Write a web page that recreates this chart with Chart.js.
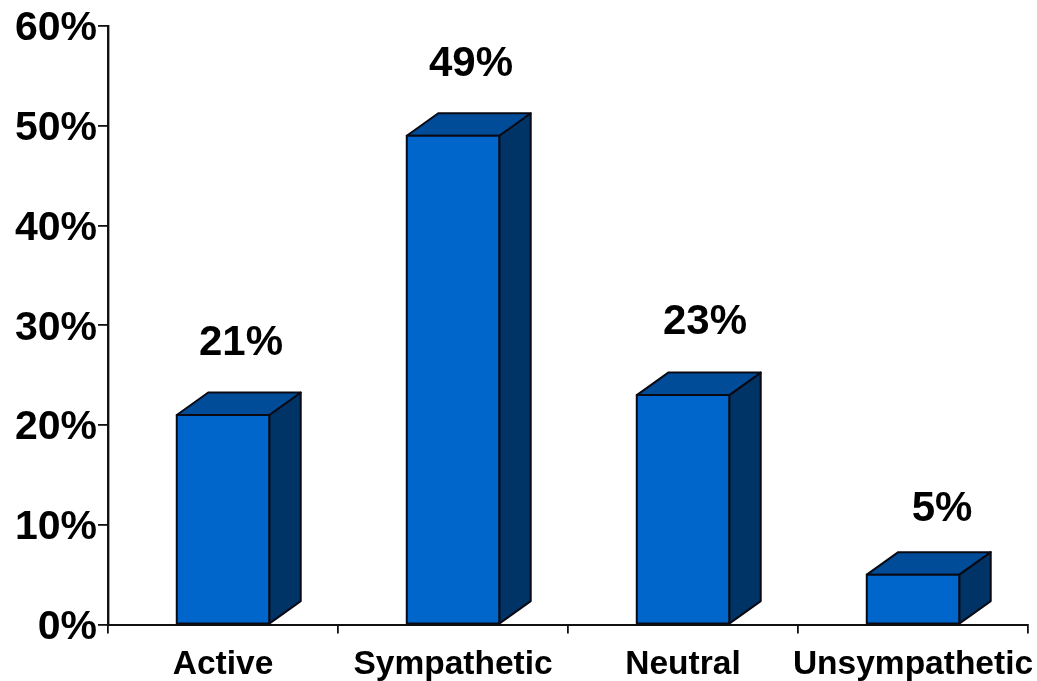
<!DOCTYPE html>
<html>
<head>
<meta charset="utf-8">
<script src="https://cdn.jsdelivr.net/npm/chart.js@4"></script>
<style>html,body{margin:0;padding:0;background:#fff}canvas{display:block}</style>
</head>
<body>
<canvas id="c" width="1037" height="681"></canvas>
<script>
const categories = ["Active", "Sympathetic", "Neutral", "Unsympathetic"];
const shares = [21, 49, 23, 5];
const yTicks = [0, 10, 20, 30, 40, 50, 60];

const bar3d = {
  id: 'bar3d',
  afterDatasetsDraw(chart, args, opts) {
    const ctx = chart.ctx;
    const meta = chart.getDatasetMeta(0);
    meta.data.forEach((bar, i) => {
      const w = bar.width / 2, l = bar.x - w, r = bar.x + w, t = bar.y, b = bar.base;
      const dx = opts.dx, dy = opts.dy;
      ctx.save();
      ctx.lineWidth = opts.lineWidth;
      ctx.strokeStyle = opts.line;
      ctx.lineJoin = 'round';
      const face = (pts, fill) => {
        ctx.beginPath();
        pts.forEach((p, k) => k ? ctx.lineTo(p[0], p[1]) : ctx.moveTo(p[0], p[1]));
        ctx.closePath();
        ctx.fillStyle = fill;
        ctx.fill();
        ctx.stroke();
      };
      face([[r, t], [r + dx, t - dy], [r + dx, b - dy], [r, b]], opts.side);
      face([[l, t], [l + dx, t - dy], [r + dx, t - dy], [r, t]], opts.top);
      face([[l, t], [r, t], [r, b], [l, b]], opts.front);
      ctx.fillStyle = '#000';
      ctx.font = opts.labelFont;
      ctx.textAlign = 'center';
      ctx.textBaseline = 'middle';
      const n = opts.nudge[i];
      ctx.fillText(shares[i] + '%', bar.x + n[0], t + n[1]);
      ctx.restore();
    });
  }
};

new Chart(document.getElementById('c'), {
  type: 'bar',
  data: {
    labels: categories,
    datasets: [{
      data: shares,
      backgroundColor: 'rgba(0,0,0,0)',
      borderWidth: 0,
      categoryPercentage: 1,
      barPercentage: 0.402
    }]
  },
  plugins: [bar3d],
  options: {
    responsive: false,
    animation: false,
    events: [],
    layout: { padding: { top: 26, right: 9, left: 0, bottom: 0 } },
    plugins: {
      legend: { display: false },
      tooltip: { enabled: false },
      title: { display: false },
      bar3d: {
        dx: 31.5, dy: 22.5, lineWidth: 2, line: '#0a0a14',
        front: '#0066CC', top: '#004C99', side: '#003366',
        labelFont: 'bold 42px "Liberation Sans"',
        nudge: [[18, -72], [18, -71], [22, -73], [29, -65]]
      }
    },
    scales: {
      x: {
        afterFit(s) { s.height = 56.5; s.paddingLeft = 0; s.paddingRight = 0; },
        border: { color: '#111', width: 2 },
        grid: { drawOnChartArea: false, color: '#111', lineWidth: 1.8, tickLength: 9, offset: true },
        ticks: {
          maxRotation: 0, minRotation: 0, autoSkip: false, padding: 11,
          color: '#000', font: { family: '"Liberation Sans"', weight: 'bold', size: 33.5 }
        }
      },
      y: {
        min: 0, max: 60,
        afterFit(s) { s.width = 108; },
        afterBuildTicks(s) { s.ticks = yTicks.map(v => ({ value: v })); },
        border: { color: '#111', width: 2.4 },
        grid: { drawOnChartArea: false, color: '#111', lineWidth: 1.8, tickLength: 10 },
        ticks: {
          padding: 1, color: '#000', labelOffset: 3,
          font: { family: '"Liberation Sans"', weight: 'bold', size: 41 },
          callback: v => v + '%'
        }
      }
    }
  }
});
</script>
</body>
</html>
